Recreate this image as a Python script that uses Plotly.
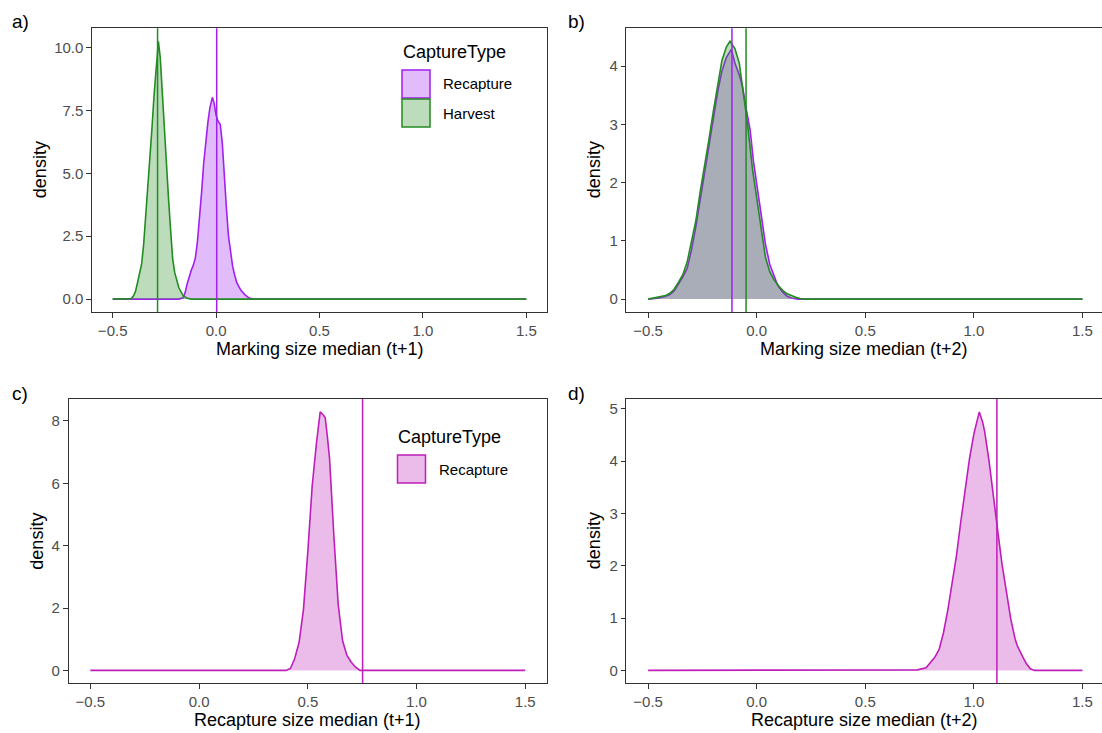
import plotly.graph_objects as go

W, H = 1102, 733

# ---------------- data ----------------
capture_types = ["Recapture", "Harvest"]
col_recap = "#A020F0"
col_harv = "#228B22"
col_recap2 = "#BE1EB9"
fill_recap = "rgba(160,32,240,0.3)"
fill_harv = "rgba(34,139,34,0.3)"
fill_recap2 = "rgba(190,30,185,0.3)"

x_tickvals = [-0.5, 0.0, 0.5, 1.0, 1.5]

# panel a: Marking size median (t+1)
a_recap_x = [-0.50, -0.18, -0.16, -0.15, -0.14, -0.13, -0.12, -0.11, -0.10, -0.09, -0.08, -0.07,
             -0.06, -0.05, -0.04, -0.03, -0.018, -0.01, 0.0, 0.01, 0.02, 0.03, 0.04, 0.05, 0.06,
             0.07, 0.08, 0.09, 0.10, 0.12, 0.14, 0.16, 0.18, 1.50]
a_recap_y = [0, 0, 0.05, 0.25, 0.6, 0.9, 1.15, 1.35, 1.65, 2.3, 3.2, 4.25,
             5.4, 6.3, 7.0, 7.6, 8.02, 7.8, 7.3, 7.06, 6.95, 6.2, 4.8, 3.6, 2.5,
             1.8, 1.3, 0.95, 0.65, 0.35, 0.17, 0.04, 0, 0]
a_harv_x = [-0.50, -0.42, -0.41, -0.40, -0.39, -0.38, -0.37, -0.36, -0.35, -0.34, -0.33, -0.32,
            -0.31, -0.30, -0.29, -0.279, -0.27, -0.26, -0.25, -0.24, -0.23, -0.22, -0.21, -0.20,
            -0.19, -0.18, -0.16, -0.14, -0.12, 1.50]
a_harv_y = [0, 0, 0.02, 0.12, 0.3, 0.65, 1.0, 1.4, 2.2, 3.3, 4.4, 5.6,
            6.8, 8.1, 9.3, 10.24, 9.6, 8.1, 6.8, 5.4, 4.0, 2.75, 1.6, 1.05,
            0.75, 0.45, 0.15, 0.03, 0, 0]
a_medians = [0.003, -0.283]
a_yticks = [0, 2.5, 5.0, 7.5, 10.0]

# panel b: Marking size median (t+2)
b_recap_x = [-0.50, -0.45, -0.42, -0.40, -0.38, -0.36, -0.34, -0.32, -0.30, -0.28, -0.26, -0.24,
             -0.22, -0.20, -0.18, -0.16, -0.14, -0.117, -0.10, -0.08, -0.066, -0.05, -0.03, -0.015,
             0.00, 0.02, 0.04, 0.06, 0.08, 0.09, 0.10, 0.12, 0.14, 0.16, 0.19, 1.50]
b_recap_y = [0, 0.02, 0.05, 0.08, 0.14, 0.25, 0.38, 0.53, 0.85, 1.25, 1.72, 2.2,
             2.65, 3.12, 3.55, 3.92, 4.15, 4.29, 4.05, 3.85, 3.66, 3.3, 2.9, 2.37,
             1.98, 1.4, 0.95, 0.6, 0.38, 0.3, 0.22, 0.12, 0.05, 0.02, 0, 0]
b_harv_x = [-0.50, -0.45, -0.42, -0.40, -0.38, -0.36, -0.34, -0.32, -0.30, -0.28, -0.26, -0.24,
            -0.22, -0.20, -0.18, -0.16, -0.14, -0.123, -0.10, -0.08, -0.06, -0.04, -0.02, 0.00,
            0.02, 0.04, 0.06, 0.08, 0.10, 0.12, 0.14, 0.16, 0.18, 0.20, 0.22, 1.50]
b_harv_y = [0, 0.03, 0.06, 0.1, 0.17, 0.29, 0.42, 0.64, 0.98, 1.35, 1.85, 2.27,
            2.74, 3.22, 3.68, 4.1, 4.33, 4.43, 4.3, 4.05, 3.5, 2.94, 2.25, 1.72,
            1.18, 0.72, 0.47, 0.33, 0.23, 0.15, 0.09, 0.055, 0.03, 0.01, 0, 0]
b_medians = [-0.114, -0.049]
b_yticks = [0, 1, 2, 3, 4]

# panel c: Recapture size median (t+1)
c_recap_x = [-0.50, 0.40, 0.42, 0.44, 0.46, 0.48, 0.50, 0.52, 0.54, 0.55, 0.557, 0.57,
             0.58, 0.59, 0.60, 0.62, 0.64, 0.66, 0.68, 0.70, 0.72, 0.74, 1.50]
c_recap_y = [0, 0, 0.06, 0.38, 0.9, 1.95, 3.8, 5.9, 7.3, 8.0, 8.29, 8.2,
             8.11, 7.5, 6.8, 4.3, 2.1, 0.95, 0.48, 0.26, 0.1, 0, 0]
c_medians = [0.752]
c_yticks = [0, 2, 4, 6, 8]

# panel d: Recapture size median (t+2)
d_recap_x = [-0.50, 0.70, 0.74, 0.78, 0.80, 0.82, 0.84, 0.86, 0.88, 0.90, 0.92, 0.94, 0.96,
             0.98, 1.00, 1.025, 1.04, 1.05, 1.07, 1.09, 1.11, 1.13, 1.15, 1.17, 1.19, 1.20,
             1.22, 1.24, 1.26, 1.28, 1.50]
d_recap_y = [0, 0, 0.01, 0.05, 0.14, 0.25, 0.40, 0.72, 1.15, 1.65, 2.2, 2.85, 3.45,
             4.05, 4.52, 4.94, 4.75, 4.56, 4.0, 3.27, 2.66, 2.02, 1.47, 0.98, 0.6, 0.47,
             0.3, 0.14, 0.03, 0, 0]
d_medians = [1.106]
d_yticks = [0, 1, 2, 3, 4, 5]

x_titles = ["Marking size median (t+1)", "Marking size median (t+2)",
            "Recapture size median (t+1)", "Recapture size median (t+2)"]
panel_tags = ["a)", "b)", "c)", "d)"]

# ---------------- layout helpers ----------------
def px(x):
    return x / W

def py(y):
    return 1 - y / H

FONT = "Liberation Sans, Arial, Helvetica, sans-serif"
AX = "#333333"

# panel rectangles in pixels (left, right, top, bottom)
panels = {
    "a": (92, 547, 28.3, 312),
    "b": (626.4, 1102, 28.3, 312),
    "c": (68.6, 547, 399, 683.3),
    "d": (626.4, 1102, 399, 683.3),
}

fig = go.Figure()

def add_curve(xs, ys, color, fillc, ax):
    fig.add_trace(go.Scatter(
        x=xs, y=ys, mode="lines", fill="tozeroy", fillcolor=fillc,
        line=dict(color=color, width=1.6, shape="linear"),
        xaxis="x" + ax, yaxis="y" + ax, showlegend=False, hoverinfo="skip"))

add_curve(a_recap_x, a_recap_y, col_recap, fill_recap, "")
add_curve(a_harv_x, a_harv_y, col_harv, fill_harv, "")
add_curve(b_recap_x, b_recap_y, col_recap, fill_recap, "2")
add_curve(b_harv_x, b_harv_y, col_harv, fill_harv, "2")
add_curve(c_recap_x, c_recap_y, col_recap2, fill_recap2, "3")
add_curve(d_recap_x, d_recap_y, col_recap2, fill_recap2, "4")

def vline(xv, color, ax):
    fig.add_shape(type="line", xref="x" + ax, yref="y" + ax + " domain",
                  x0=xv, x1=xv, y0=0, y1=1, line=dict(color=color, width=1.5))

vline(a_medians[0], col_recap, "")
vline(a_medians[1], col_harv, "")
vline(b_medians[0], col_recap, "2")
vline(b_medians[1], col_harv, "2")
vline(c_medians[0], col_recap2, "3")
vline(d_medians[0], col_recap2, "4")

def xax(p, xr, anchor):
    l, r, t, b = panels[p]
    return dict(domain=[px(l), px(r)], range=xr, anchor=anchor,
                tickvals=x_tickvals, tickformat=".1f",
                showline=True, linecolor=AX, linewidth=1.1, mirror=True,
                ticks="outside", ticklen=4.6, tickwidth=1.1, tickcolor=AX,
                showgrid=False, zeroline=False,
                tickfont=dict(family=FONT, size=15, color="#4D4D4D"))

def yax(p, yr, tv, fmt, anchor, mirror):
    l, r, t, b = panels[p]
    return dict(domain=[py(b), py(t)], range=yr, anchor=anchor,
                tickvals=tv, tickformat=fmt,
                showline=True, linecolor=AX, linewidth=1.1, mirror=mirror,
                ticks="outside", ticklen=4.6, tickwidth=1.1, tickcolor=AX,
                showgrid=False, zeroline=False,
                tickfont=dict(family=FONT, size=15, color="#4D4D4D"))

fig.update_layout(
    width=W, height=H, margin=dict(l=0, r=0, t=0, b=0),
    paper_bgcolor="white", plot_bgcolor="white",
    font=dict(family=FONT, color="black"),
    xaxis=xax("a", [-0.6, 1.6], "y"),
    yaxis=yax("a", [-0.5125, 10.7625], a_yticks, ".1f", "x", True),
    xaxis2=xax("b", [-0.6, 1.59], "y2"),
    yaxis2=yax("b", [-0.2215, 4.6515], b_yticks, "d", "x2", False),
    xaxis3=xax("c", [-0.6, 1.6], "y3"),
    yaxis3=yax("c", [-0.4145, 8.7045], c_yticks, "d", "x3", True),
    xaxis4=xax("d", [-0.6, 1.59], "y4"),
    yaxis4=yax("d", [-0.247, 5.187], d_yticks, "d", "x4", False),
)

ann = []
# axis titles
ytitle_x = {"a": 40, "b": 594, "c": 37.5, "d": 594}
for i, p in enumerate(["a", "b", "c", "d"]):
    l, r, t, b = panels[p]
    cx = (l + r) / 2 if p in ("a", "c") else 864
    ann.append(dict(x=px(cx), y=py(b + 37), xref="paper", yref="paper",
                    text=x_titles[i], showarrow=False, xanchor="center", yanchor="middle",
                    font=dict(family=FONT, size=18, color="black")))
    ann.append(dict(x=px(ytitle_x[p]), y=py((t + b) / 2), xref="paper", yref="paper",
                    text="density", textangle=-90, showarrow=False,
                    xanchor="center", yanchor="middle",
                    font=dict(family=FONT, size=18, color="black")))
# panel tags
tag_pos = [(10, 21.5), (566, 21.5), (10, 393.5), (566, 393.5)]
for tag, (tx, ty) in zip(panel_tags, tag_pos):
    ann.append(dict(x=px(tx), y=py(ty), xref="paper", yref="paper", text=tag,
                    showarrow=False, xanchor="left", yanchor="middle",
                    font=dict(family=FONT, size=19, color="black")))

# legends (drawn manually, ggplot style)
def legend(title_x, title_y, key_x, key_y0, items):
    ann.append(dict(x=px(title_x), y=py(title_y), xref="paper", yref="paper",
                    text="CaptureType", showarrow=False, xanchor="left", yanchor="middle",
                    font=dict(family=FONT, size=18, color="black")))
    for k, (name, lc, fc) in enumerate(items):
        y0 = key_y0 + k * 29
        fig.add_shape(type="rect", xref="paper", yref="paper",
                      x0=px(key_x), x1=px(key_x + 28), y0=py(y0 + 28), y1=py(y0),
                      fillcolor=fc, line=dict(color=lc, width=1.5))
        ann.append(dict(x=px(key_x + 39), y=py(y0 + 14), xref="paper", yref="paper",
                        text=name, showarrow=False, xanchor="left", yanchor="middle",
                        font=dict(family=FONT, size=15, color="black")))

legend(400.7, 52, 402, 70, [(capture_types[0], col_recap, fill_recap),
                            (capture_types[1], col_harv, fill_harv)])
legend(396.4, 437, 397.5, 455, [(capture_types[0], col_recap2, fill_recap2)])

fig.update_layout(annotations=ann)
fig.write_html("out.html", config={"displayModeBar": False}, post_script=(
    "document.body.style.margin='0';document.body.style.padding='0';"
    "document.documentElement.style.overflow='hidden';"
    "window.dispatchEvent(new Event('resize'));"))
